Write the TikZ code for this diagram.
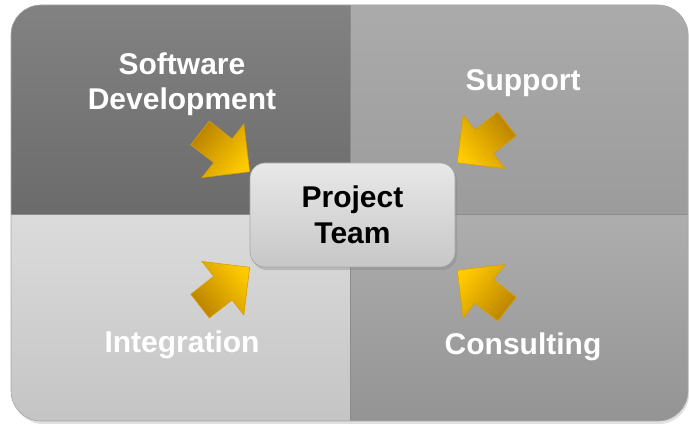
\documentclass[tikz,border=0pt]{standalone}
\usepackage{fontspec}
\setmainfont{Liberation Sans}
\usetikzlibrary{calc,positioning,shadows}
\definecolor{gold}{RGB}{255,202,0}
\definecolor{darkgold}{RGB}{186,130,0}
\definecolor{goldline}{RGB}{214,160,0}
\tikzstyle{quadline}=[draw=black!45,line width=1pt]
\tikzstyle{label}=[text=white,font=\bfseries\fontsize{30}{35}\selectfont,align=center]
\tikzstyle{team}=[rounded corners=15pt,minimum width=205pt,minimum height=104pt,
  top color=black!9,bottom color=black!22,draw=black!35,line width=0.6pt,
  drop shadow={shadow xshift=2pt,shadow yshift=-3pt,opacity=0.35},
  font=\bfseries\fontsize{30}{36}\selectfont,align=center]
\tikzstyle{blockarrow}=[shading=axis,top color=gold,bottom color=darkgold,draw=goldline,line width=0.6pt,line join=miter]

\begin{document}
\begin{tikzpicture}[x=1pt,y=1pt]
  \useasboundingbox (0,0) rectangle (689,426);

  % four quadrants
  \fill[black!12,rounded corners=30pt] (13,2) rectangle (689,419);
  \begin{scope}
    \clip[rounded corners=30pt] (11,5) rectangle (688,421);
    \shade[top color=black!49,bottom color=black!58] (11,211) rectangle (350,421);
    \shade[top color=black!33,bottom color=black!39] (350,211) rectangle (688,421);
    \shade[top color=black!14,bottom color=black!23] (11,5) rectangle (350,211);
    \shade[top color=black!32,bottom color=black!42] (350,5) rectangle (688,211);
    \draw[quadline] (11,211) -- (688,211);
    \draw[quadline] (350,5) -- (350,421);
  \end{scope}
  \draw[black!35,line width=0.6pt,rounded corners=30pt] (11,5) rectangle (688,421);

  \node[label] (dev) at (182,342) {Software\\Development};
  \node[label] (sup) at (523,343) {Support};
  \node[label] (int) at (182,81) {Integration};
  \node[label] (con) at (523,79) {Consulting};

  \node[team] (team) at (352.5,211) {Project\\Team};

  \foreach \corner/\dx/\dy/\ang in {north west/0/-9/-38, north east/2/0/-142,
                south west/0/0/38, south east/2/-3/142}
  {
    \pgfmathsetmacro{\sang}{\ang-90}
    \coordinate (tip) at ($(team.\corner)+(\dx,\dy)$);
    \begin{scope}[shift={(tip)},rotate=\ang]
      \shade[blockarrow,shading angle=\sang] (0,0) -- (-34,34) -- (-34,15) -- (-63,15)
        -- (-63,-15) -- (-34,-15) -- (-34,-34) -- cycle;
    \end{scope}
  }
\end{tikzpicture}
\end{document}
